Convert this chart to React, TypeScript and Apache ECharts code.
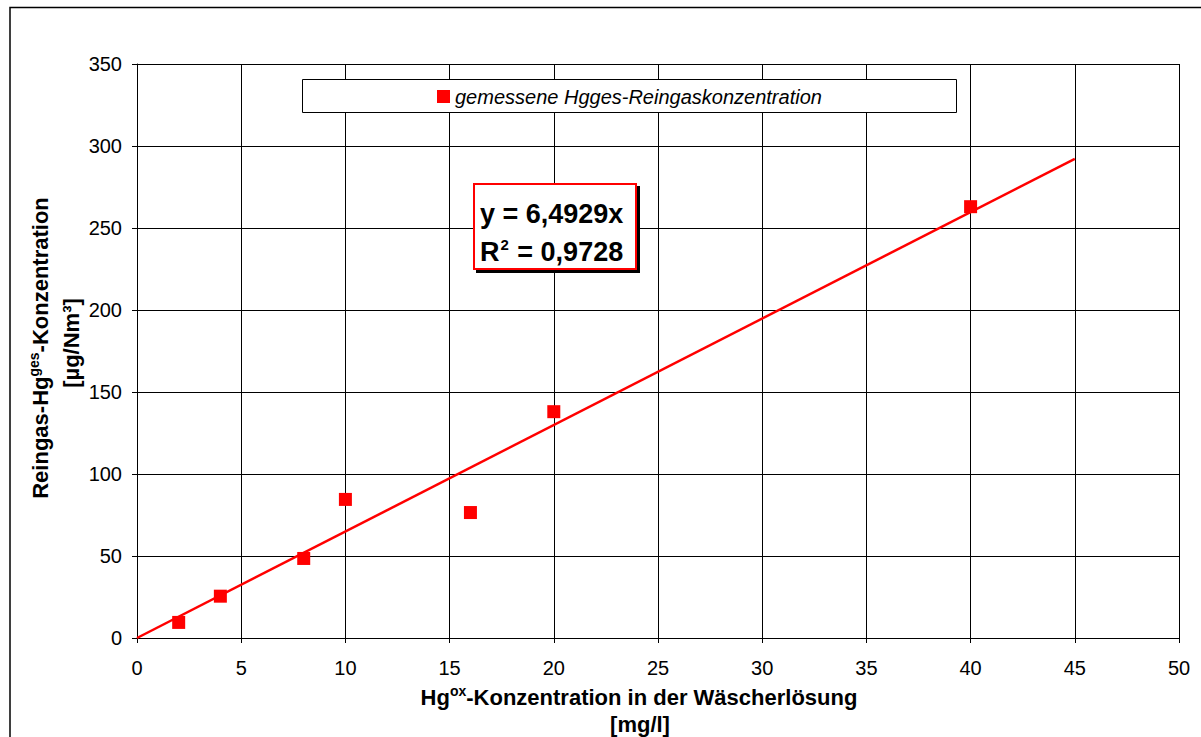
import React, { useEffect, useRef } from "react";
import * as echarts from "echarts";

const xMeasured = [2, 4, 8, 10, 16, 20, 40];
const yMeasured = [9.5, 25.5, 48.5, 84.5, 76.5, 138, 263];
const trendX = [0, 45];
const trendY = [0, 292.18];
const xTicks = { min: 0, max: 50, interval: 5 };
const yTicks = { min: 0, max: 350, interval: 50 };
const seriesName = "gemessene Hgges-Reingaskonzentration";
const eqLine1 = "y = 6,4929x";
const eqLine2 = "{b|R}{s|2}{b| = 0,9728}";
const xTitle1 = "{b|Hg}{s|ox}{b|-Konzentration in der Wäscherlösung}";
const xTitle2 = "[mg/l]";
const yTitle1 = "{b|Reingas-Hg}{s|ges}{b|-Konzentration}";
const yTitle2 = "[µg/Nm³]";

const FONT = "'Liberation Sans', Arial, sans-serif";

export default function App() {
  const ref = useRef<HTMLDivElement>(null);
  useEffect(() => {
    if (!ref.current) return;
    const chart = echarts.init(ref.current, null, { renderer: "svg" });
    const scatterData = xMeasured.map((x, i) => [x, yMeasured[i]]);
    const trendData = trendX.map((x, i) => [x, trendY[i]]);
    const titleRich = {
      b: { fontSize: 22, fontWeight: "bold", fontFamily: FONT, color: "#000" },
      s: { fontSize: 14, fontWeight: "bold", fontFamily: FONT, color: "#000", verticalAlign: "top", padding: [0, 0, 12, 0] },
    };
    chart.setOption({
      animation: false,
      backgroundColor: "#fff",
      textStyle: { fontFamily: FONT },
      grid: { left: 137, top: 64, width: 1042, height: 574, show: false },
      xAxis: {
        type: "value",
        min: xTicks.min,
        max: xTicks.max,
        interval: xTicks.interval,
        axisLine: { show: true, lineStyle: { color: "#000", width: 1 } },
        axisTick: { show: true, length: 5, lineStyle: { color: "#000" } },
        axisLabel: { fontSize: 20, color: "#000", margin: 20, fontFamily: FONT },
        splitLine: { show: true, lineStyle: { color: "#000", width: 1 } },
      },
      yAxis: {
        type: "value",
        min: yTicks.min,
        max: yTicks.max,
        interval: yTicks.interval,
        axisLine: { show: true, lineStyle: { color: "#000", width: 1 } },
        axisTick: { show: true, length: 5, lineStyle: { color: "#000" } },
        axisLabel: { fontSize: 20, color: "#000", margin: 15, fontFamily: FONT },
        splitLine: { show: true, lineStyle: { color: "#000", width: 1 } },
      },
      legend: {
        show: true,
        left: 437,
        top: 86.5,
        padding: 0,
        itemWidth: 13,
        itemHeight: 13,
        icon: "rect",
        z: 10,
        data: [seriesName],
        textStyle: { fontSize: 20, fontStyle: "italic", color: "#000", fontFamily: FONT },
      },
      series: [
        {
          type: "line",
          name: "Trend",
          data: trendData,
          showSymbol: false,
          symbol: "none",
          lineStyle: { color: "#ff0000", width: 2.5 },
          z: 3,
        },
        {
          type: "scatter",
          name: seriesName,
          data: scatterData,
          symbol: "rect",
          symbolSize: 13,
          itemStyle: { color: "#ff0000", opacity: 1 },
          z: 4,
        },
      ],
      graphic: [
        {
          type: "rect",
          z: 1,
          silent: true,
          shape: { x: 10, y: 7.5, width: 1300, height: 1000 },
          style: { fill: "none", stroke: "#000", lineWidth: 1.5 },
        },
        {
          type: "rect",
          z: 8,
          silent: true,
          shape: { x: 302.5, y: 79.5, width: 654, height: 33 },
          style: { fill: "#fff", stroke: "#000", lineWidth: 1 },
        },
        {
          type: "rect",
          z: 8,
          silent: true,
          shape: { x: 476, y: 186, width: 164, height: 87 },
          style: { fill: "#000" },
        },
        {
          type: "rect",
          z: 9,
          silent: true,
          shape: { x: 474, y: 184, width: 162, height: 85 },
          style: { fill: "#fff", stroke: "#ff0000", lineWidth: 2 },
        },
        {
          type: "text",
          z: 10,
          silent: true,
          x: 480,
          y: 214,
          style: {
            text: eqLine1,
            fontSize: 27,
            fontWeight: "bold",
            fontFamily: FONT,
            fill: "#000",
            verticalAlign: "middle",
            align: "left",
          },
        },
        {
          type: "text",
          z: 10,
          silent: true,
          x: 480,
          y: 252,
          style: {
            text: eqLine2,
            verticalAlign: "middle",
            align: "left",
            rich: {
              b: { fontSize: 27, fontWeight: "bold", fontFamily: FONT, color: "#000" },
              s: { fontSize: 15, fontWeight: "bold", fontFamily: FONT, color: "#000", verticalAlign: "top", padding: [0, 1, 16, 1] },
            },
          },
        },
        {
          type: "text",
          z: 10,
          silent: true,
          x: 639,
          y: 697,
          style: { text: xTitle1, align: "center", verticalAlign: "middle", rich: titleRich },
        },
        {
          type: "text",
          z: 10,
          silent: true,
          x: 640,
          y: 724,
          style: {
            text: xTitle2,
            align: "center",
            verticalAlign: "middle",
            fontSize: 22,
            fontWeight: "bold",
            fontFamily: FONT,
            fill: "#000",
          },
        },
        {
          type: "text",
          z: 10,
          silent: true,
          x: 40,
          y: 348,
          rotation: Math.PI / 2,
          style: { text: yTitle1, align: "center", verticalAlign: "middle", rich: titleRich },
        },
        {
          type: "text",
          z: 10,
          silent: true,
          x: 71,
          y: 343,
          rotation: Math.PI / 2,
          style: {
            text: yTitle2,
            align: "center",
            verticalAlign: "middle",
            fontSize: 22,
            fontWeight: "bold",
            fontFamily: FONT,
            fill: "#000",
          },
        },
      ],
    });
    return () => chart.dispose();
  }, []);
  return (
    <div
      ref={ref}
      style={{ position: "fixed", left: 0, top: 0, width: 1201, height: 737 }}
    />
  );
}
